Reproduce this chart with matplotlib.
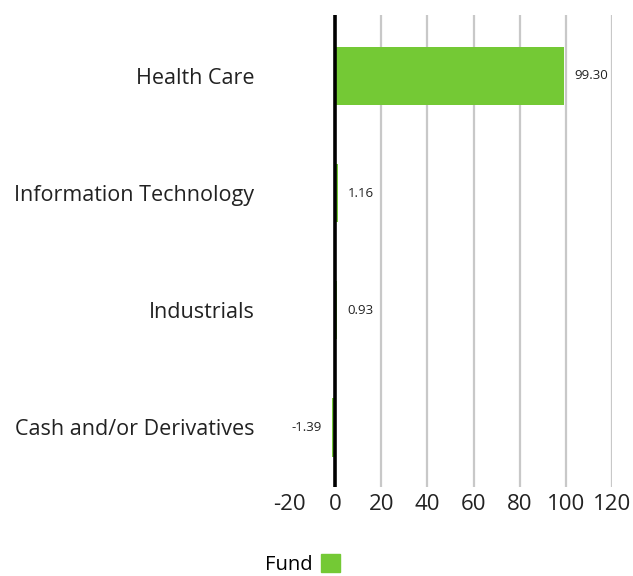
import matplotlib.pyplot as plt
from matplotlib.patches import Patch

plt.rcParams['font.family'] = ['Open Sans', 'DejaVu Sans']

sectors = ['Health Care', 'Information Technology', 'Industrials', 'Cash and/or Derivatives']
fund = [99.30, 1.16, 0.93, -1.39]
xticks = [-20, 0, 20, 40, 60, 80, 100, 120]

green = '#74c935'

fig = plt.figure(figsize=(6.33, 5.76), dpi=100)
ax = fig.add_axes([0.4566, 0.1545, 0.5102, 0.8195])

ypos = list(range(len(sectors)))
ax.barh(ypos, fund, height=0.5, color=green, zorder=2)

for y, v in zip(ypos, fund):
    if v >= 0:
        ax.annotate(f'{v:.2f}', (v, y), xytext=(7, 0), textcoords='offset points',
                    ha='left', va='center', fontsize=9.5, color='#222222')
    else:
        ax.annotate(f'{v:.2f}', (v, y), xytext=(-7, 0), textcoords='offset points',
                    ha='right', va='center', fontsize=9.5, color='#222222')

ax.set_xlim(-20, 120)
ax.set_ylim(3.51, -0.52)
ax.set_xticks(xticks)
ax.set_xticklabels([str(t) for t in xticks], fontsize=16, color='#222222')
ax.set_yticks(ypos)
ax.set_yticklabels(sectors, fontsize=15.5, color='#222222')
ax.tick_params(axis='y', length=0, pad=25)
ax.tick_params(axis='x', length=0, pad=5)

for t in xticks[2:]:
    ax.axvline(t, color='#c8c8c8', lw=1.6, zorder=1)
ax.axvline(0, color='black', lw=2.6, zorder=3)

for s in ax.spines.values():
    s.set_visible(False)

fig.legend(handles=[Patch(color=green, label='Fund')], loc='center',
           bbox_to_anchor=(0.478, 0.02), frameon=False, markerfirst=False,
           fontsize=14.5, handlelength=0.95, handleheight=1.0, handletextpad=0.45,
           borderpad=0.2)

fig.savefig('out.png', dpi=100)
